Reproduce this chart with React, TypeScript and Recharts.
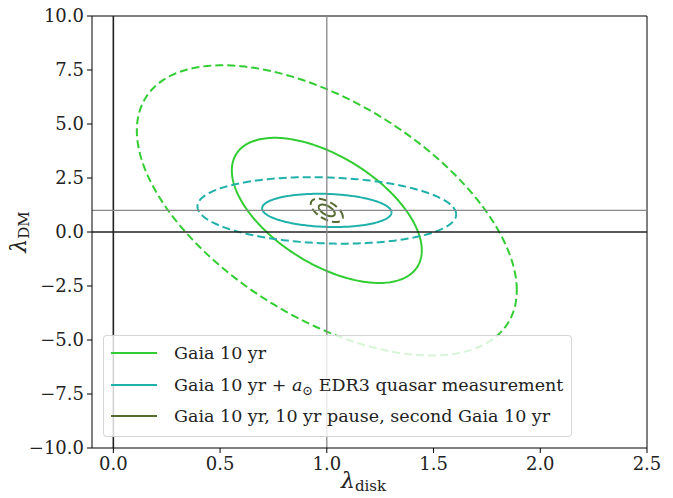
import React from 'react';
import { ComposedChart, Line, XAxis, YAxis, ReferenceLine } from 'recharts';

// Forecast contours (1σ solid, 2σ dashed) in the (λ_disk, λ_DM) plane
const seriesNames = [
  'Gaia 10 yr',
  'Gaia 10 yr + a⊙ EDR3 quasar measurement',
  'Gaia 10 yr, 10 yr pause, second Gaia 10 yr',
];
const seriesColors = ['#32CD32', '#20B2AA', '#556B2F'];
const centerDisk = [1.0, 1.0, 1.0];
const centerDM = [1.0, 1.0, 1.0];
const sigmaDisk = [0.445, 0.303, 0.0375];
const sigmaDM = [3.36, 0.77, 0.27];
const correlation = [-0.55, -0.12, -0.56];
const contourLevels = [1, 2];

const xTicks = [0, 0.5, 1.0, 1.5, 2.0, 2.5];
const yTicks = [-10, -7.5, -5, -2.5, 0, 2.5, 5, 7.5, 10];
const truthDisk = 1.0;
const truthDM = 1.0;

function contour(i: number, k: number) {
  const pts: { x: number; y: number }[] = [];
  const n = 240;
  const r = correlation[i];
  const s = Math.sqrt(1 - r * r);
  for (let j = 0; j <= n; j++) {
    const t = (2 * Math.PI * j) / n;
    pts.push({
      x: centerDisk[i] + k * sigmaDisk[i] * Math.cos(t),
      y: centerDM[i] + k * sigmaDM[i] * (r * Math.cos(t) + s * Math.sin(t)),
    });
  }
  return pts;
}

const fmt = (v: number) => (v < 0 ? '\u2212' + Math.abs(v).toFixed(1) : v.toFixed(1));
const FONT = '"DejaVu Serif", serif';
const tickStyle = { fontFamily: FONT, fontSize: 18, fill: '#222' };

export default function App() {
  return (
    <div style={{ position: 'absolute', left: 0, top: 0, width: 673, height: 498, background: '#fff' }}>
      <ComposedChart width={673} height={498} margin={{ top: 16, right: 26, bottom: 0, left: 0 }}>
        <XAxis
          dataKey="x"
          type="number"
          domain={[-0.1, 2.5]}
          ticks={xTicks}
          tickFormatter={fmt}
          allowDataOverflow
          height={50}
          stroke="#000"
          tickSize={5}
          tickMargin={4}
          tick={tickStyle}
          tickLine={{ stroke: '#000' }}
        />
        <YAxis
          dataKey="y"
          type="number"
          domain={[-10, 10]}
          ticks={yTicks}
          tickFormatter={fmt}
          allowDataOverflow
          width={92}
          stroke="#000"
          tickSize={5}
          tickMargin={3}
          tick={tickStyle}
          tickLine={{ stroke: '#000' }}
        />
        <ReferenceLine x={2.5} stroke="#000" strokeWidth={1} />
        <ReferenceLine y={10} stroke="#000" strokeWidth={1} />
        {seriesNames.map((name, i) =>
          contourLevels.map((k) => (
            <Line
              key={name + k}
              data={contour(i, k)}
              dataKey="y"
              type="linear"
              stroke={seriesColors[i]}
              strokeWidth={2}
              strokeDasharray={k === 2 ? '8 4' : undefined}
              dot={false}
              activeDot={false}
              isAnimationActive={false}
              legendType="none"
            />
          ))
        )}
        <ReferenceLine x={0} stroke="#222" strokeWidth={1.6} />
        <ReferenceLine y={0} stroke="#222" strokeWidth={1.6} />
        <ReferenceLine x={truthDisk} stroke="#888" strokeWidth={1.3} />
        <ReferenceLine y={truthDM} stroke="#888" strokeWidth={1.3} />
      </ComposedChart>

      {/* x-axis label */}
      <div style={{ position: 'absolute', left: 341, top: 469, fontFamily: FONT, fontSize: 22, color: '#222', whiteSpace: 'nowrap', lineHeight: '24px' }}>
        <i>λ</i>
        <span style={{ fontSize: 15, position: 'relative', top: 3 }}>disk</span>
      </div>
      {/* y-axis label */}
      <div
        style={{
          position: 'absolute',
          left: 20,
          top: 232,
          transform: 'translate(-50%, -50%) rotate(-90deg)',
          fontFamily: FONT,
          fontSize: 22,
          color: '#222',
          whiteSpace: 'nowrap',
          lineHeight: '24px',
        }}
      >
        <i>λ</i>
        <span style={{ fontSize: 15, position: 'relative', top: 3 }}>DM</span>
      </div>

      {/* legend */}
      <div
        style={{
          position: 'absolute',
          left: 103,
          top: 335,
          width: 467,
          height: 100,
          border: '1px solid rgba(204,204,204,0.8)',
          borderRadius: 4,
          background: 'rgba(255,255,255,0.8)',
          fontFamily: FONT,
          fontSize: 17.5,
          color: '#222',
        }}
      >
        {seriesNames.map((name, i) => (
          <div key={name} style={{ position: 'absolute', left: 7, top: 5 + i * 31.5, height: 24, display: 'flex', alignItems: 'center', whiteSpace: 'nowrap' }}>
            <svg width={46} height={4} style={{ marginRight: 17 }}>
              <line x1={0} y1={2} x2={46} y2={2} stroke={seriesColors[i]} strokeWidth={2} />
            </svg>
            {i === 1 ? (
              <span>
                Gaia 10 yr + <i>a</i>
                <span style={{ fontSize: 13, position: 'relative', top: 4 }}>⊙</span> EDR3 quasar measurement
              </span>
            ) : (
              <span>{name}</span>
            )}
          </div>
        ))}
      </div>
    </div>
  );
}
